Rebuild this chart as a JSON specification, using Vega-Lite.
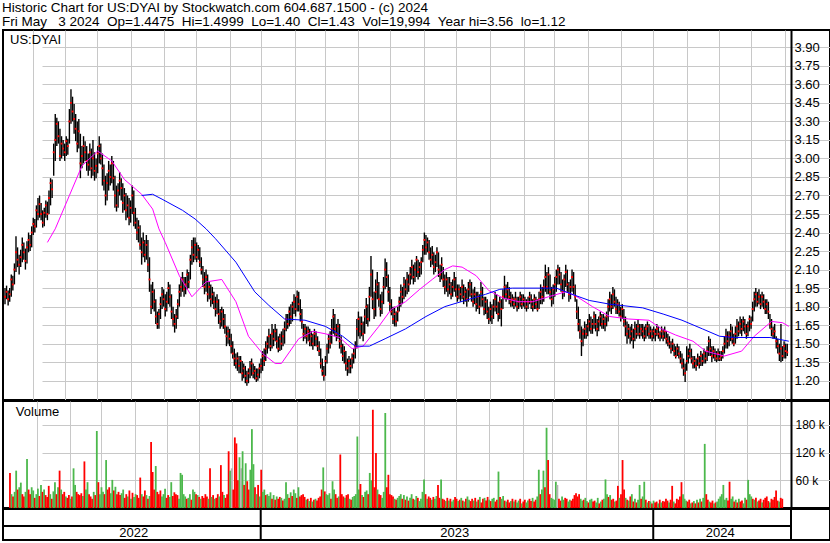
{
"$schema": "https://vega.github.io/schema/vega-lite/v6.json",
"background": "white",
"padding": {"left": 1, "top": 0, "right": 0, "bottom": 0},
"spacing": 1,
"bounds": "flush",
"title": {"text": ["Historic Chart for US:DYAI by Stockwatch.com 604.687.1500 - (c) 2024", "Fri May \u00a0 3 2024 \u00a0Op=1.4475 \u00a0Hi=1.4999 \u00a0Lo=1.40 \u00a0Cl=1.43 \u00a0Vol=19,994 \u00a0Year hi=3.56 \u00a0lo=1.12"], "anchor": "start", "font": "Liberation Sans", "fontSize": 13.5, "fontWeight": "normal", "lineHeight": 14, "color": "black", "offset": 1, "dx": 1},
"config": {
  "view": {"stroke": "black", "strokeWidth": 2},
  "axis": {"grid": true, "gridColor": "#c8c8c8", "gridWidth": 1, "ticks": false, "title": null, "labelFont": "Liberation Sans", "labelFontSize": 13, "labelColor": "black", "domainColor": "black", "domainWidth": 2, "labelOverlap": false, "labelFlush": false, "labelBound": false, "tickCount": 60},
  "axisX": {"labels": false, "domain": false, "minExtent": 0, "maxExtent": 0, "offset": 0}
},
"data": {"values": "i,h,l,c,v,t\n0,1.95,1.82,1.88,76,d\n1,1.97,1.86,1.92,30,u\n2,1.93,1.81,1.86,25,d\n3,1.95,1.84,1.90,35,u\n4,2.06,1.88,2.02,81,u\n5,2.05,1.93,1.98,40,d\n6,2.15,1.98,2.10,45,u\n7,2.37,2.08,2.24,55,u\n8,2.28,2.12,2.18,30,d\n9,2.22,2.06,2.14,25,d\n10,2.26,2.12,2.20,35,u\n11,2.36,2.16,2.30,106,u\n12,2.32,2.18,2.24,40,d\n13,2.27,2.10,2.17,30,d\n14,2.33,2.15,2.28,45,u\n15,2.40,2.24,2.34,38,u\n16,2.38,2.25,2.30,22,d\n17,2.45,2.28,2.40,30,u\n18,2.52,2.38,2.47,42,u\n19,2.51,2.40,2.45,26,d\n20,2.62,2.44,2.58,50,u\n21,2.68,2.50,2.55,35,d\n22,2.70,2.52,2.63,40,u\n23,2.64,2.50,2.55,28,d\n24,2.58,2.44,2.48,24,d\n25,2.60,2.45,2.56,48,d\n26,2.66,2.52,2.62,30,u\n27,2.65,2.50,2.55,20,d\n28,2.74,2.55,2.68,36,u\n29,2.84,2.62,2.80,56,u\n30,2.83,2.68,2.75,30,d\n31,3.12,2.86,3.05,45,u\n32,3.36,2.98,3.15,81,d\n33,3.33,3.10,3.28,40,u\n34,3.30,3.12,3.18,30,d\n35,3.24,2.98,3.02,35,d\n36,3.18,3.00,3.12,25,u\n37,3.15,3.02,3.08,22,d\n38,3.12,2.98,3.05,28,d\n39,3.18,3.02,3.14,20,u\n40,3.16,3.03,3.10,25,d\n41,3.40,3.12,3.30,86,u\n42,3.56,3.28,3.45,50,u\n43,3.50,3.30,3.38,35,d\n44,3.44,3.20,3.32,30,d\n45,3.36,3.14,3.24,28,d\n46,3.30,3.05,3.12,32,d\n47,3.32,3.08,3.22,26,u\n48,3.20,2.84,2.96,101,d\n49,3.10,2.92,3.02,40,u\n50,3.18,2.96,3.10,56,u\n51,3.14,2.98,3.05,30,d\n52,3.10,2.90,2.98,25,d\n53,3.04,2.86,2.95,20,d\n54,3.12,2.90,3.05,35,u\n55,3.08,2.84,2.92,28,d\n56,3.15,2.86,3.00,167,u\n57,3.05,2.82,2.90,56,d\n58,3.00,2.84,2.94,30,u\n59,3.10,2.88,3.04,45,u\n60,3.18,2.96,3.10,35,u\n61,3.12,2.95,3.00,30,d\n62,3.04,2.78,2.92,104,u\n63,2.95,2.74,2.82,40,d\n64,2.86,2.62,2.70,45,d\n65,2.88,2.66,2.80,32,u\n66,2.98,2.74,2.90,61,u\n67,2.95,2.78,2.85,38,d\n68,3.02,2.80,2.96,46,u\n69,2.98,2.74,2.84,30,d\n70,2.86,2.60,2.70,35,d\n71,2.78,2.57,2.62,28,d\n72,2.80,2.60,2.74,32,u\n73,2.89,2.70,2.82,40,u\n74,2.84,2.66,2.76,22,d\n75,2.80,2.56,2.64,30,d\n76,2.76,2.58,2.70,25,u\n77,2.72,2.50,2.58,38,d\n78,2.70,2.52,2.62,20,u\n79,2.68,2.46,2.52,33,d\n80,2.66,2.48,2.60,24,u\n81,2.78,2.55,2.70,30,u\n82,2.74,2.45,2.56,28,d\n83,2.60,2.43,2.48,22,d\n84,2.52,2.34,2.40,66,d\n85,2.50,2.32,2.44,30,u\n86,2.46,2.26,2.30,25,d\n87,2.36,2.14,2.24,38,d\n88,2.40,2.20,2.32,28,u\n89,2.34,2.16,2.22,20,d\n90,2.38,2.18,2.30,26,u\n91,2.34,2.08,2.14,143,d\n92,2.20,1.92,2.02,78,d\n93,1.98,1.74,1.80,40,d\n94,2.00,1.78,1.92,91,u\n95,1.94,1.76,1.84,35,d\n96,1.86,1.66,1.72,30,d\n97,1.76,1.62,1.66,38,d\n98,1.78,1.62,1.74,25,u\n99,1.88,1.70,1.82,30,u\n100,1.96,1.78,1.90,42,u\n101,1.94,1.80,1.86,22,d\n102,1.90,1.72,1.78,28,d\n103,1.92,1.76,1.84,24,u\n104,2.00,1.82,1.95,56,u\n105,1.98,1.80,1.88,26,d\n106,1.90,1.70,1.76,34,d\n107,1.80,1.64,1.70,30,d\n108,1.74,1.59,1.66,28,d\n109,1.78,1.62,1.72,20,u\n110,1.86,1.70,1.82,76,u\n111,1.98,1.80,1.92,72,u\n112,2.04,1.88,1.96,30,u\n113,2.08,1.92,2.02,25,u\n114,2.04,1.88,1.94,20,d\n115,2.04,1.90,1.98,22,u\n116,2.10,1.94,2.06,30,u\n117,2.08,1.95,2.00,18,d\n118,2.22,2.02,2.18,40,u\n119,2.34,2.14,2.28,35,u\n120,2.36,2.16,2.22,30,d\n121,2.36,2.18,2.30,28,u\n122,2.32,2.16,2.20,24,d\n123,2.30,2.18,2.26,20,u\n124,2.28,2.12,2.16,26,d\n125,2.20,2.06,2.10,22,d\n126,2.13,1.96,2.02,30,d\n127,2.08,1.90,1.96,25,d\n128,2.10,1.92,2.04,20,u\n129,2.06,1.84,1.90,86,d\n130,2.00,1.86,1.96,24,u\n131,1.98,1.80,1.86,28,d\n132,1.96,1.82,1.90,20,u\n133,1.92,1.78,1.84,22,d\n134,1.88,1.72,1.78,30,d\n135,1.90,1.74,1.84,25,u\n136,1.86,1.66,1.74,93,d\n137,1.78,1.62,1.68,35,d\n138,1.80,1.64,1.76,28,u\n139,1.78,1.62,1.70,22,d\n140,1.74,1.58,1.64,30,d\n141,1.64,1.48,1.56,123,d\n142,1.64,1.50,1.60,81,u\n143,1.62,1.48,1.54,86,n\n144,1.58,1.42,1.48,40,d\n145,1.52,1.38,1.42,153,d\n146,1.46,1.32,1.38,140,d\n147,1.42,1.30,1.34,60,d\n148,1.43,1.28,1.38,110,u\n149,1.40,1.26,1.32,86,n\n150,1.40,1.26,1.36,123,u\n151,1.36,1.20,1.26,50,d\n152,1.34,1.22,1.30,97,u\n153,1.32,1.18,1.24,58,d\n154,1.28,1.16,1.20,40,d\n155,1.30,1.18,1.26,83,u\n156,1.36,1.22,1.30,171,u\n157,1.38,1.24,1.34,95,u\n158,1.34,1.22,1.26,45,d\n159,1.32,1.21,1.28,30,u\n160,1.30,1.19,1.22,50,d\n161,1.30,1.20,1.25,25,u\n162,1.34,1.22,1.30,83,d\n163,1.38,1.26,1.32,35,u\n164,1.44,1.28,1.40,40,u\n165,1.46,1.32,1.36,28,d\n166,1.52,1.36,1.46,30,u\n167,1.56,1.42,1.50,26,u\n168,1.62,1.46,1.56,34,u\n169,1.58,1.44,1.48,20,d\n170,1.66,1.46,1.58,28,u\n171,1.62,1.48,1.54,18,d\n172,1.66,1.52,1.60,25,u\n173,1.62,1.46,1.52,20,d\n174,1.56,1.43,1.46,24,d\n175,1.58,1.44,1.54,22,u\n176,1.60,1.45,1.50,16,d\n177,1.62,1.48,1.56,20,u\n178,1.68,1.50,1.62,56,u\n179,1.74,1.60,1.70,30,u\n180,1.74,1.62,1.66,22,d\n181,1.80,1.64,1.76,34,u\n182,1.82,1.66,1.72,26,d\n183,1.84,1.68,1.80,40,u\n184,1.90,1.74,1.84,32,u\n185,1.88,1.72,1.78,22,d\n186,1.93,1.76,1.88,45,u\n187,1.92,1.76,1.82,25,d\n188,1.86,1.68,1.74,28,d\n189,1.78,1.62,1.68,30,d\n190,1.66,1.52,1.58,24,d\n191,1.66,1.54,1.62,18,u\n192,1.64,1.50,1.56,20,d\n193,1.64,1.52,1.60,15,u\n194,1.62,1.48,1.52,22,d\n195,1.60,1.48,1.56,14,u\n196,1.58,1.45,1.50,18,d\n197,1.62,1.48,1.58,20,u\n198,1.60,1.48,1.54,16,d\n199,1.56,1.44,1.48,22,d\n200,1.52,1.40,1.44,25,d\n201,1.46,1.30,1.34,40,d\n202,1.38,1.24,1.28,88,u\n203,1.32,1.20,1.24,36,d\n204,1.40,1.24,1.36,30,u\n205,1.50,1.34,1.46,28,u\n206,1.58,1.42,1.54,32,u\n207,1.60,1.46,1.50,20,d\n208,1.70,1.50,1.62,58,u\n209,1.78,1.58,1.72,40,u\n210,1.74,1.56,1.62,30,d\n211,1.66,1.52,1.58,22,d\n212,1.70,1.54,1.64,25,u\n213,1.66,1.46,1.52,116,d\n214,1.56,1.42,1.48,30,d\n215,1.50,1.36,1.40,25,d\n216,1.48,1.34,1.44,22,u\n217,1.44,1.28,1.34,28,d\n218,1.38,1.24,1.30,30,d\n219,1.40,1.26,1.36,20,u\n220,1.38,1.26,1.32,18,d\n221,1.42,1.30,1.38,24,u\n222,1.46,1.34,1.42,26,u\n223,1.52,1.38,1.48,30,u\n224,1.70,1.46,1.62,155,u\n225,1.76,1.56,1.70,40,u\n226,1.72,1.54,1.60,52,d\n227,1.72,1.56,1.66,28,u\n228,1.68,1.52,1.58,24,d\n229,1.78,1.58,1.72,35,u\n230,1.87,1.66,1.80,38,u\n231,1.82,1.64,1.70,30,d\n232,1.96,1.68,1.88,76,u\n233,2.21,1.88,2.06,60,u\n234,2.10,1.78,1.86,213,d\n235,1.92,1.70,1.78,45,d\n236,2.02,1.72,1.92,119,d\n237,2.08,1.86,1.98,40,u\n238,2.00,1.80,1.86,30,d\n239,1.90,1.72,1.78,28,d\n240,1.92,1.74,1.84,22,u\n241,2.04,1.82,1.96,35,u\n242,2.19,1.94,2.10,206,u\n243,2.16,1.96,2.04,45,d\n244,2.06,1.84,1.92,72,d\n245,1.96,1.76,1.82,30,d\n246,1.86,1.73,1.76,28,d\n247,1.80,1.66,1.70,25,d\n248,1.80,1.64,1.74,20,u\n249,1.76,1.64,1.68,18,d\n250,1.80,1.68,1.76,22,u\n251,1.88,1.76,1.84,26,u\n252,1.98,1.80,1.92,30,u\n253,1.96,1.82,1.88,20,d\n254,2.04,1.86,1.98,28,u\n255,2.02,1.88,1.94,18,d\n256,2.08,1.90,2.02,25,u\n257,2.06,1.92,1.98,16,d\n258,2.12,1.98,2.06,22,u\n259,2.18,2.02,2.12,30,u\n260,2.14,1.98,2.04,20,d\n261,2.16,2.00,2.10,18,u\n262,2.21,2.04,2.18,26,u\n263,2.18,2.02,2.08,22,d\n264,2.16,2.04,2.12,15,u\n265,2.20,2.06,2.16,20,u\n266,2.30,2.16,2.26,35,u\n267,2.40,2.22,2.34,62,u\n268,2.38,2.22,2.28,30,d\n269,2.36,2.24,2.32,20,u\n270,2.34,2.18,2.24,25,d\n271,2.28,2.12,2.18,22,d\n272,2.29,2.14,2.22,18,u\n273,2.24,2.06,2.12,24,d\n274,2.22,2.08,2.16,20,u\n275,2.28,2.12,2.24,26,u\n276,2.24,2.04,2.10,50,d\n277,2.14,2.00,2.06,22,d\n278,2.20,2.02,2.14,62,u\n279,2.12,1.96,2.02,20,d\n280,2.06,1.90,1.96,18,d\n281,2.08,1.92,2.02,15,u\n282,2.04,1.88,1.94,22,d\n283,2.04,1.90,1.98,16,u\n284,2.00,1.86,1.90,20,d\n285,2.02,1.88,1.96,14,u\n286,2.08,1.92,2.02,18,u\n287,2.04,1.88,1.94,24,d\n288,1.98,1.84,1.88,20,d\n289,1.98,1.86,1.94,15,u\n290,1.96,1.84,1.90,18,d\n291,2.02,1.86,1.96,22,u\n292,1.98,1.82,1.88,16,d\n293,1.96,1.84,1.92,14,u\n294,1.94,1.80,1.86,20,d\n295,2.00,1.84,1.94,25,u\n296,2.02,1.88,1.98,18,u\n297,2.00,1.84,1.90,15,d\n298,1.94,1.80,1.84,20,d\n299,1.96,1.82,1.90,16,u\n300,1.92,1.76,1.82,22,d\n301,1.92,1.78,1.88,14,u\n302,1.90,1.74,1.80,18,d\n303,2.00,1.80,1.92,24,u\n304,1.96,1.80,1.86,12,d\n305,1.88,1.73,1.78,20,d\n306,1.88,1.74,1.84,22,u\n307,1.86,1.70,1.76,16,d\n308,1.80,1.66,1.70,24,d\n309,1.84,1.68,1.78,18,u\n310,1.82,1.66,1.72,15,d\n311,1.86,1.70,1.80,20,u\n312,1.92,1.76,1.86,22,u\n313,1.90,1.74,1.80,14,d\n314,1.84,1.68,1.74,18,d\n315,1.88,1.70,1.84,79,u\n316,1.86,1.64,1.78,24,d\n317,1.94,1.78,1.88,20,u\n318,2.05,1.86,1.96,26,u\n319,1.98,1.84,1.90,16,d\n320,2.00,1.86,1.94,14,u\n321,1.96,1.82,1.88,18,d\n322,1.92,1.80,1.84,12,d\n323,1.90,1.80,1.86,15,u\n324,1.88,1.78,1.82,20,d\n325,1.92,1.80,1.86,14,u\n326,1.88,1.76,1.80,18,d\n327,1.88,1.78,1.84,12,u\n328,1.92,1.80,1.88,16,u\n329,1.90,1.78,1.82,20,d\n330,1.90,1.80,1.86,10,u\n331,1.88,1.78,1.84,14,d\n332,1.86,1.76,1.80,18,d\n333,1.88,1.78,1.84,12,u\n334,1.92,1.82,1.88,16,u\n335,1.90,1.78,1.84,20,d\n336,1.86,1.76,1.80,15,d\n337,1.90,1.78,1.86,22,u\n338,1.88,1.78,1.82,14,d\n339,1.86,1.76,1.78,18,d\n340,1.92,1.78,1.86,25,u\n341,1.98,1.82,1.92,83,u\n342,1.96,1.82,1.88,30,d\n343,2.02,1.84,1.96,40,u\n344,2.14,1.92,2.04,81,u\n345,2.08,1.90,1.96,45,d\n346,2.12,1.90,2.06,174,u\n347,2.06,1.86,1.92,104,d\n348,1.96,1.80,1.86,30,d\n349,1.98,1.82,1.94,22,u\n350,2.04,1.88,1.98,20,u\n351,2.10,1.92,2.04,18,u\n352,2.14,1.98,2.10,57,u\n353,2.12,1.98,2.06,50,n\n354,2.08,1.92,1.98,20,d\n355,2.02,1.86,1.92,16,d\n356,2.06,1.88,2.02,25,u\n357,2.14,1.96,2.08,18,u\n358,2.10,1.92,1.98,22,d\n359,2.00,1.84,1.90,20,d\n360,2.02,1.86,1.96,14,u\n361,2.10,1.92,2.04,18,u\n362,2.08,1.90,1.96,16,d\n363,1.98,1.84,1.88,20,d\n364,1.86,1.70,1.76,28,d\n365,1.80,1.60,1.66,32,d\n366,1.70,1.54,1.60,25,d\n367,1.64,1.40,1.52,30,d\n368,1.62,1.48,1.58,20,u\n369,1.68,1.54,1.62,16,u\n370,1.66,1.54,1.58,18,d\n371,1.70,1.56,1.64,22,u\n372,1.74,1.60,1.68,15,u\n373,1.72,1.58,1.62,12,d\n374,1.70,1.58,1.66,18,u\n375,1.76,1.62,1.72,20,u\n376,1.74,1.60,1.66,14,d\n377,1.70,1.56,1.62,16,d\n378,1.72,1.60,1.68,12,u\n379,1.76,1.64,1.72,22,u\n380,1.74,1.62,1.66,10,d\n381,1.74,1.62,1.70,14,u\n382,1.72,1.60,1.66,18,d\n383,1.76,1.64,1.72,20,u\n384,1.86,1.68,1.80,62,u\n385,1.92,1.76,1.86,30,u\n386,1.90,1.74,1.80,24,d\n387,1.96,1.78,1.90,28,u\n388,1.94,1.80,1.84,18,d\n389,1.88,1.74,1.78,20,d\n390,1.86,1.74,1.82,14,u\n391,1.84,1.72,1.76,16,d\n392,1.80,1.68,1.72,48,d\n393,1.82,1.70,1.78,22,u\n394,1.78,1.64,1.68,30,d\n395,1.72,1.56,1.64,104,d\n396,1.68,1.50,1.58,40,d\n397,1.66,1.54,1.62,22,u\n398,1.64,1.50,1.56,18,d\n399,1.66,1.52,1.60,16,u\n400,1.62,1.46,1.54,25,d\n401,1.68,1.52,1.62,30,u\n402,1.66,1.54,1.58,14,d\n403,1.70,1.56,1.64,20,u\n404,1.66,1.54,1.58,12,d\n405,1.66,1.56,1.62,18,u\n406,1.66,1.54,1.60,50,u\n407,1.64,1.52,1.56,20,d\n408,1.66,1.54,1.62,25,u\n409,1.68,1.56,1.64,57,u\n410,1.66,1.54,1.58,18,d\n411,1.64,1.54,1.60,12,u\n412,1.62,1.52,1.56,15,d\n413,1.64,1.54,1.60,14,u\n414,1.62,1.52,1.58,10,d\n415,1.66,1.56,1.62,16,u\n416,1.64,1.54,1.58,12,d\n417,1.60,1.52,1.56,14,d\n418,1.64,1.54,1.60,10,u\n419,1.62,1.52,1.56,18,d\n420,1.64,1.54,1.60,12,u\n421,1.60,1.50,1.54,15,d\n422,1.58,1.48,1.52,14,d\n423,1.56,1.46,1.50,20,d\n424,1.52,1.42,1.46,16,d\n425,1.54,1.44,1.50,12,u\n426,1.50,1.40,1.44,18,d\n427,1.48,1.38,1.40,48,d\n428,1.50,1.40,1.46,14,u\n429,1.48,1.38,1.42,10,d\n430,1.44,1.34,1.38,20,d\n431,1.42,1.30,1.34,18,d\n432,1.38,1.24,1.30,25,d\n433,1.34,1.19,1.26,56,d\n434,1.48,1.28,1.36,30,u\n435,1.46,1.34,1.40,20,u\n436,1.50,1.38,1.44,16,u\n437,1.46,1.34,1.38,14,d\n438,1.40,1.30,1.34,18,d\n439,1.40,1.30,1.36,10,u\n440,1.38,1.28,1.32,12,d\n441,1.42,1.32,1.38,15,u\n442,1.40,1.30,1.34,10,d\n443,1.44,1.32,1.40,18,u\n444,1.42,1.32,1.36,12,d\n445,1.46,1.34,1.42,20,u\n446,1.44,1.34,1.38,14,d\n447,1.48,1.36,1.44,22,u\n448,1.56,1.40,1.52,139,u\n449,1.54,1.40,1.46,30,d\n450,1.48,1.35,1.40,18,d\n451,1.48,1.38,1.44,14,u\n452,1.46,1.36,1.40,12,d\n453,1.44,1.35,1.38,16,d\n454,1.46,1.36,1.42,10,u\n455,1.44,1.36,1.38,12,d\n456,1.44,1.36,1.40,14,u\n457,1.48,1.38,1.44,20,u\n458,1.56,1.42,1.50,25,u\n459,1.62,1.46,1.56,30,u\n460,1.60,1.46,1.52,50,u\n461,1.60,1.48,1.56,18,u\n462,1.66,1.52,1.60,22,u\n463,1.64,1.50,1.54,16,d\n464,1.58,1.48,1.50,57,d\n465,1.64,1.50,1.58,20,u\n466,1.70,1.54,1.64,25,u\n467,1.68,1.56,1.60,14,d\n468,1.72,1.58,1.66,18,u\n469,1.70,1.56,1.62,12,d\n470,1.72,1.60,1.68,20,u\n471,1.70,1.58,1.64,14,d\n472,1.66,1.54,1.58,16,d\n473,1.68,1.56,1.64,10,u\n474,1.73,1.60,1.70,22,u\n475,1.72,1.62,1.66,18,d\n476,1.84,1.68,1.78,61,u\n477,1.92,1.76,1.86,30,u\n478,1.95,1.80,1.90,25,u\n479,1.92,1.80,1.84,20,d\n480,1.94,1.82,1.88,18,u\n481,1.90,1.78,1.82,22,d\n482,1.92,1.80,1.88,14,u\n483,1.90,1.78,1.84,16,d\n484,1.86,1.74,1.78,20,d\n485,1.86,1.74,1.82,12,u\n486,1.84,1.70,1.76,18,d\n487,1.74,1.62,1.66,22,d\n488,1.70,1.56,1.62,25,d\n489,1.64,1.54,1.58,15,d\n490,1.66,1.54,1.60,12,u\n491,1.56,1.46,1.52,20,d\n492,1.54,1.42,1.48,18,d\n493,1.50,1.36,1.42,24,d\n494,1.66,1.35,1.46,38,d\n495,1.48,1.36,1.40,16,d\n496,1.52,1.38,1.48,14,u\n497,1.50,1.38,1.44,22,d\n498,1.50,1.40,1.43,20,d", "format": {"type": "csv", "parse": {"i": "number", "h": "number", "l": "number", "c": "number", "v": "number"}}},
"vconcat": [
 {
  "width": 827, "height": 370,
  "layer": [
   {"mark": {"type": "rule", "strokeWidth": 1.4, "color": "black"},
    "encoding": {
      "x": {"field": "i", "type": "quantitative", "scale": {"domain": [-1.27, 500.4], "range": [0, 788], "nice": false, "zero": false},
            "axis": {"tickCount": 60, "values": [17.6,38.4,58.4,80.4,101.0,121.8,143.0,162.8,184.8,203.9,224.9,245.3,266.9,287.3,308.6,330.6,349.7,371.2,392.3,412.7,434.4,454.7,475.1,496.4]}},
      "y": {"field": "l", "type": "quantitative", "scale": {"domain": [1.044, 4.04], "nice": false, "zero": false},
            "axis": {"orient": "right", "offset": -39, "tickCount": 60, "values": [1.2,1.35,1.5,1.65,1.8,1.95,2.1,2.25,2.4,2.55,2.7,2.85,3.0,3.15,3.3,3.45,3.6,3.75,3.9], "format": ".2f", "labelPadding": 3}},
      "y2": {"field": "h"}}},
   {"mark": {"type": "point", "shape": "square", "filled": true, "size": 3.5, "color": "#ff0000", "opacity": 1},
    "encoding": {"x": {"field": "i", "type": "quantitative"}, "y": {"field": "c", "type": "quantitative"}}},
   {"data": {"values": "i,v,s\n27,2.32,m\n32,2.43,m\n41,2.70,m\n49,2.94,m\n59,3.06,m\n68,2.98,m\n76,2.83,m\n87,2.71,m\n94,2.59,m\n96,2.51,m\n98,2.43,m\n102,2.32,m\n111,2.05,m\n119,1.88,m\n128,2.00,m\n138,2.02,m\n147,1.84,m\n155,1.56,m\n164,1.42,m\n172,1.34,m\n176,1.34,m\n187,1.54,m\n196,1.60,m\n204,1.58,m\n213,1.55,m\n221,1.46,m\n228,1.48,m\n238,1.64,m\n246,1.78,m\n255,1.84,m\n264,1.94,m\n272,2.02,m\n280,2.10,m\n285,2.13,m\n291,2.12,m\n300,2.05,m\n308,1.93,m\n317,1.87,m\n327,1.84,m\n336,1.84,m\n346,1.88,m\n357,1.92,m\n363,1.89,m\n374,1.80,m\n385,1.72,m\n397,1.70,m\n410,1.69,m\n418,1.62,m\n427,1.57,m\n438,1.52,m\n446,1.44,m\n458,1.40,m\n469,1.44,m\n477,1.56,m\n488,1.68,m\n495,1.67,m\n499,1.64,m\n87,2.70,b\n94,2.71,b\n100,2.67,b\n113,2.58,b\n121,2.51,b\n128,2.43,b\n134,2.35,b\n147,2.16,b\n159,1.92,b\n168,1.81,b\n178,1.70,b\n191,1.69,b\n204,1.64,b\n215,1.56,b\n223,1.48,b\n232,1.48,b\n242,1.54,b\n255,1.62,b\n268,1.72,b\n280,1.80,b\n293,1.85,b\n306,1.90,b\n315,1.94,b\n323,1.95,b\n346,1.95,b\n351,1.95,b\n361,1.90,b\n372,1.85,b\n385,1.82,b\n406,1.79,b\n419,1.74,b\n431,1.69,b\n444,1.62,b\n455,1.56,b\n465,1.55,b\n487,1.55,b\n499,1.52,b", "format": {"type": "csv", "parse": {"i": "number", "v": "number"}}},
    "mark": {"type": "line", "strokeWidth": 1},
    "encoding": {"x": {"field": "i", "type": "quantitative", "sort": null}, "y": {"field": "v", "type": "quantitative"},
      "color": {"field": "s", "type": "nominal", "scale": {"domain": ["u", "d", "n", "m", "b"], "range": ["#4cb84c", "#ff0000", "#b4b4b4", "#ff00ff", "#0000ff"]}, "legend": null}}},
   {"data": {"values": [{"t": "US:DYAI"}]},
    "mark": {"type": "text", "align": "left", "baseline": "alphabetic", "font": "Liberation Sans", "fontSize": 13, "color": "black"},
    "encoding": {"x": {"datum": 3.2}, "y": {"datum": 3.927}, "text": {"field": "t"}}}
  ]
 },
 {
  "width": 827, "height": 107,
  "layer": [
   {"mark": {"type": "bar", "orient": "vertical", "size": 1.8},
    "encoding": {
      "x": {"field": "i", "type": "quantitative", "scale": {"domain": [-1.27, 500.4], "range": [0, 788], "nice": false, "zero": false},
            "axis": {"tickCount": 60, "values": [17.6,38.4,58.4,80.4,101.0,121.8,143.0,162.8,184.8,203.9,224.9,245.3,266.9,287.3,308.6,330.6,349.7,371.2,392.3,412.7,434.4,454.7,475.1,496.4]}},
      "y": {"field": "v", "type": "quantitative", "scale": {"domain": [0, 232], "nice": false},
            "axis": {"orient": "right", "offset": -39, "tickCount": 20, "values": [60, 120, 180], "labelExpr": "datum.value + ' k'", "labelPadding": 4, "labelFontSize": 12}},
      "color": {"field": "t", "type": "nominal", "scale": {"domain": ["u", "d", "n", "m", "b"], "range": ["#4cb84c", "#ff0000", "#b4b4b4", "#ff00ff", "#0000ff"]}, "legend": null}}},
   {"data": {"values": [{"t": "Volume"}]},
    "mark": {"type": "text", "align": "left", "baseline": "alphabetic", "font": "Liberation Sans", "fontSize": 13, "color": "black"},
    "encoding": {"x": {"datum": 3.8}, "y": {"datum": 199.5}, "text": {"field": "t"}}}
  ]
 },
 {
  "width": 827, "height": 31,
  "layer": [
   {"data": {"values": [{"i": 162.8}, {"i": 412.7}]},
    "mark": {"type": "rule", "color": "black", "strokeWidth": 2},
    "encoding": {"x": {"field": "i", "type": "quantitative", "scale": {"domain": [-1.27, 500.4], "range": [0, 788], "nice": false, "zero": false}, "axis": null}}},
   {"data": {"values": [{"i": 500.4}]},
    "mark": {"type": "rule", "color": "black", "strokeWidth": 2},
    "encoding": {"x": {"field": "i", "type": "quantitative"}}},
   {"data": {"values": [{"a": -1.27, "b": 500.4, "y": 14}]},
    "mark": {"type": "rule", "color": "black", "strokeWidth": 2},
    "encoding": {"x": {"field": "a", "type": "quantitative"}, "x2": {"field": "b"}, "y": {"field": "y", "type": "quantitative", "scale": {"domain": [0, 31], "nice": false}, "axis": null}}},
   {"data": {"values": [{"yr": "2022", "i": 81.9}, {"yr": "2023", "i": 286.3}, {"yr": "2024", "i": 455.4}]},
    "mark": {"type": "text", "align": "center", "baseline": "middle", "font": "Liberation Sans", "fontSize": 13, "color": "black"},
    "encoding": {"x": {"field": "i", "type": "quantitative"}, "y": {"datum": 7}, "text": {"field": "yr"}}}
  ]
 }
]
}
